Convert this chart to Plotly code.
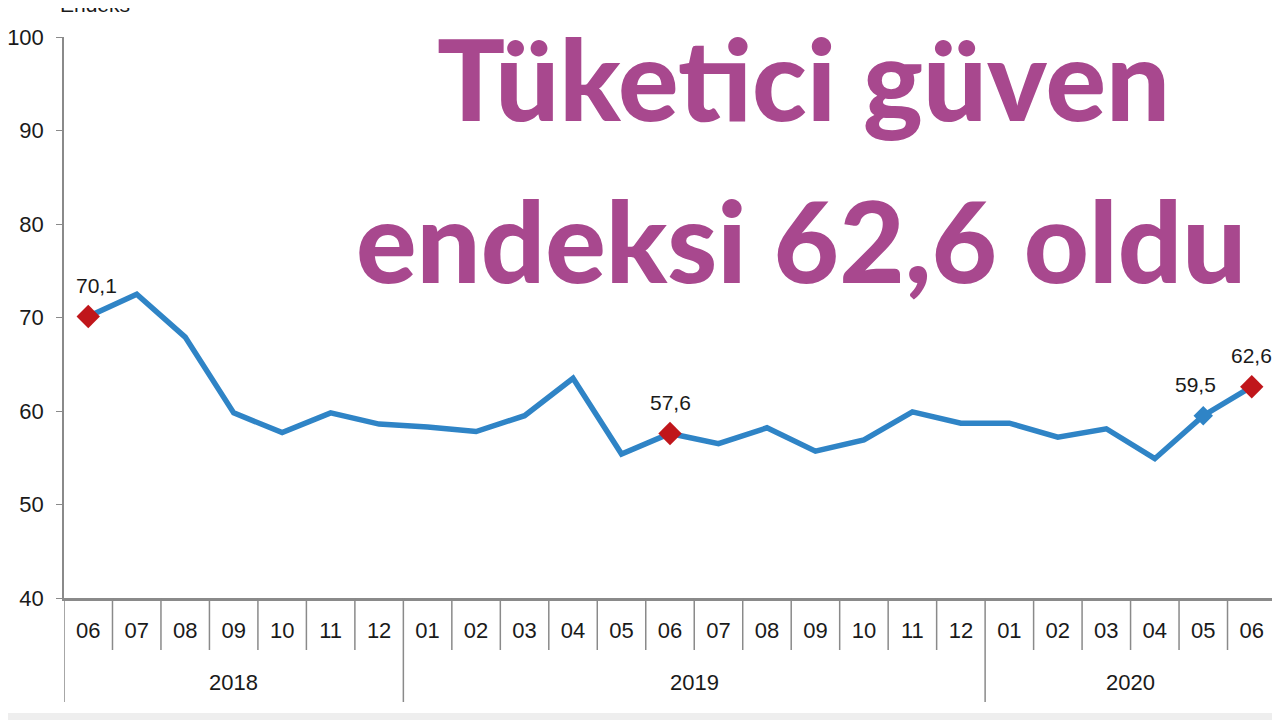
import plotly.graph_objects as go

years = ["2018"] * 7 + ["2019"] * 12 + ["2020"] * 6
months = ["06", "07", "08", "09", "10", "11", "12",
          "01", "02", "03", "04", "05", "06", "07", "08", "09", "10", "11", "12",
          "01", "02", "03", "04", "05", "06"]
values = [70.1, 72.5, 67.9, 59.8, 57.7, 59.8, 58.6,
          58.3, 57.8, 59.5, 63.5, 55.4, 57.6, 56.5, 58.2, 55.7, 56.9, 59.9, 58.7,
          58.7, 57.2, 58.1, 54.9, 59.5, 62.6]
red_idx = [0, 12, 24]
blue_idx = [23]
label_idx = [0, 12, 23, 24]
label_text = ["70,1", "57,6", "59,5", "62,6"]
label_dx = [8, 0, -8, 0]
title_lines = ["Tüketici güven", "endeksi 62,6 oldu"]
y_title = "Endeks"

LINE = "#2F84C6"
RED = "#C0161B"
TITLE_C = "#A8488E"
AX = "#8a8a8a"
TXT = "#1a1a1a"
FONT = "Liberation Sans, Arial, sans-serif"
TFONT = "Lato, Roboto, sans-serif"

# figure geometry (page body adds an 8px offset)
W, H = 1272, 712
ML, MR, MT, MB = 56, 4, 29, 122
PW = W - ML - MR
PH = H - MT - MB


def py(fig_y):
    """paper y for a figure pixel row"""
    return 1 - (fig_y - MT) / PH


def px(fig_x):
    return (fig_x - ML) / PW


AXIS_Y = MT + PH
idx = list(range(len(values)))

fig = go.Figure()
fig.add_trace(go.Scatter(x=idx, y=values, mode="lines",
                         line=dict(color=LINE, width=5.5), hoverinfo="skip"))
fig.add_trace(go.Scatter(x=blue_idx, y=[values[i] for i in blue_idx], mode="markers",
                         marker=dict(symbol="diamond", size=15, color=LINE)))
fig.add_trace(go.Scatter(x=red_idx, y=[values[i] for i in red_idx], mode="markers",
                         marker=dict(symbol="diamond", size=18, color=RED)))

for i, t, dx in zip(label_idx, label_text, label_dx):
    fig.add_annotation(x=i, y=values[i], xref="x", yref="y", text=t, showarrow=False,
                       yshift=31, xshift=dx, font=dict(family=FONT, size=21, color=TXT))

# month boundaries and year groups
shapes = []
for i in range(len(months) + 1):
    b = i - 0.5
    is_year_edge = i == 0 or i == len(months) or years[i] != years[i - 1]
    shapes.append(dict(type="line", xref="x", yref="paper", x0=b, x1=b, y0=0,
                       y1=py(AXIS_Y + (104 if is_year_edge else 52)), line=dict(color=AX, width=1.5)))
groups = []
for i, yv in enumerate(years):
    if not groups or groups[-1][0] != yv:
        groups.append([yv, i, i])
    else:
        groups[-1][2] = i
for yv, a, b in groups:
    fig.add_annotation(x=(a + b) / 2, y=py(AXIS_Y + 84), xref="x", yref="paper", text=yv,
                       showarrow=False, xanchor="center", yanchor="middle",
                       font=dict(family=FONT, size=22, color=TXT))

# title
fig.add_annotation(x=0.610, y=0.929, xref="paper", yref="paper", text=title_lines[0],
                   showarrow=False, xanchor="center", yanchor="middle",
                   font=dict(family=TFONT, size=113, color=TITLE_C, weight=900))
fig.add_annotation(x=0.608, y=0.640, xref="paper", yref="paper", text=title_lines[1],
                   showarrow=False, xanchor="center", yanchor="middle",
                   font=dict(family=TFONT, size=113, color=TITLE_C, weight=900))
fig.add_annotation(x=px(87), y=py(-3), xref="paper", yref="paper", text=y_title, showarrow=False,
                   xanchor="center", yanchor="middle", font=dict(family=FONT, size=21, color=TXT))

# light strip along the bottom edge of the image
shapes.append(dict(type="rect", xref="paper", yref="paper", x0=px(0), x1=px(W),
                   y0=py(H), y1=py(H - 7), fillcolor="#eeeeee", line=dict(width=0), layer="below"))

fig.update_layout(
    width=W, height=H,
    margin=dict(l=ML, r=MR, t=MT, b=MB),
    paper_bgcolor="white", plot_bgcolor="white",
    showlegend=False, shapes=shapes,
    font=dict(family=FONT, size=22, color=TXT),
)
fig.update_xaxes(range=[-0.5, len(months) - 0.5], tickmode="array", tickvals=idx, ticktext=months,
                 ticks="", ticklabelstandoff=11, showline=True, linecolor=AX, linewidth=3,
                 showgrid=False, zeroline=False, automargin=False,
                 tickfont=dict(family=FONT, size=22, color=TXT))
fig.update_yaxes(range=[40, 100], dtick=10, showline=True, linecolor=AX, linewidth=1.5,
                 ticks="outside", ticklen=6, tickcolor=AX, ticklabelstandoff=8,
                 showgrid=False, zeroline=False, automargin=False,
                 tickfont=dict(family=FONT, size=22, color=TXT))

fig.write_html("out.html")
